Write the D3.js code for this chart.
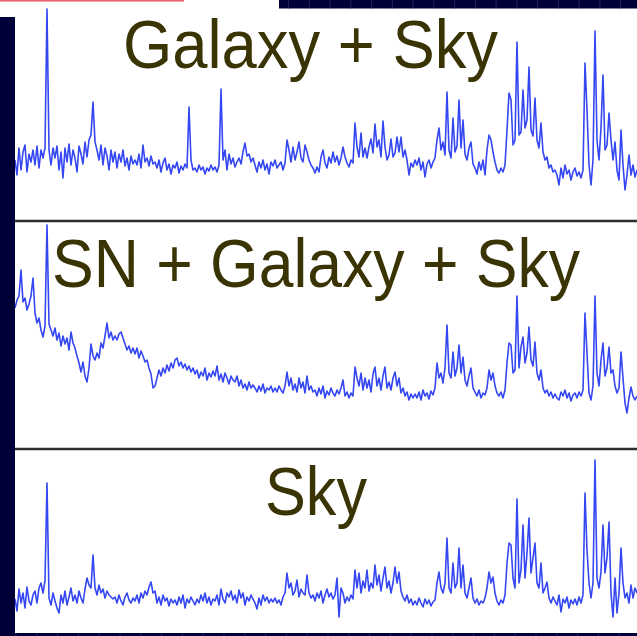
<!DOCTYPE html>
<html>
<head>
<meta charset="utf-8">
<script src="https://cdn.jsdelivr.net/npm/d3@7"></script>
<style>
  html, body { margin: 0; padding: 0; background: #ffffff; }
  svg { display: block; }
</style>
</head>
<body>
<svg id="chart" width="637" height="636"></svg>
<script>
// Panel titles
const panelTitles = ["Galaxy + Sky", "SN + Galaxy + Sky", "Sky"];

// Wavelength grid (Angstrom): regular sampling
const waveStart = 3500;
const waveStep = 18;
const nSamples = 312;
const wave = d3.range(nSamples).map(i => waveStart + i * waveStep);

// Relative flux, galaxy + sky
const fluxGalaxySky = [
  60, 45, 72, 50, 68, 75, 48, 66, 58, 70,   55, 74, 52, 70, 62, 72, 211, 70, 55, 72,
  62, 74, 50, 68, 42, 72, 58, 76, 55, 70,   62, 48, 74, 66, 56, 78, 63, 80, 85, 118,
  78, 70, 60, 75, 55, 72, 64, 50, 70, 58,   68, 52, 66, 58, 70, 54, 62, 50, 64, 56,
  60, 55, 66, 52, 75, 58, 62, 54, 64, 56,   58, 52, 60, 48, 57, 62, 50, 56, 46, 55,
  52, 58, 47, 54, 50, 56, 52, 113, 60, 50,  52, 48, 55, 50, 53, 46, 52, 49, 55, 50,
  53, 48, 55, 131, 60, 70, 50, 66, 56, 62,  53, 58, 62, 56, 68, 77, 64, 66, 58, 62,
  55, 48, 58, 52, 60, 50, 56, 46, 58, 54,   60, 52, 55, 58, 50, 57, 80, 70, 58, 73,
  60, 68, 78, 62, 58, 75, 68, 60, 55, 52,   47, 53, 48, 63, 70, 57, 52, 63, 57, 68,
  58, 64, 55, 62, 73, 63, 57, 53, 60, 57,   97, 73, 63, 87, 63, 72, 62, 73, 81, 67,
  96, 73, 80, 63, 99, 73, 60, 65, 81, 63,   67, 83, 68, 83, 63, 70, 60, 45, 57, 53,
  60, 55, 62, 50, 58, 43, 56, 60, 52, 58,   62, 80, 92, 70, 78, 65, 128, 70, 62, 102,
  68, 74, 120, 72, 100, 66, 60, 72, 78, 56, 52, 46, 58, 50, 60, 45, 70, 85, 80, 68,
  58, 50, 47, 52, 48, 55, 90, 127, 120, 75, 80, 178, 85, 88, 130, 92, 100, 153, 90, 84,
  122, 80, 72, 97, 68, 60, 63, 52, 55, 48,  50, 45, 35, 52, 42, 55, 46, 50, 40, 48,
  52, 44, 48, 42, 50, 157, 110, 55, 35, 60, 189, 80, 60, 92, 145, 70, 75, 107, 80, 60,
  78, 50, 40, 90, 55, 30, 45, 65, 45, 55,   43, 50
];

// Relative flux, supernova + galaxy + sky
const fluxSnGalaxySky = [
  140, 148, 152, 178, 146, 150, 138, 144, 152, 170,  135, 125, 130, 118, 111, 122, 223, 124, 118, 112,
  120, 108, 115, 102, 112, 104, 110, 98, 116, 105,   100, 92, 85, 76, 86, 72, 66, 80, 104, 92,
  88, 95, 90, 105, 100, 112, 125, 110, 116, 108,     112, 108, 114, 116, 110, 104, 98, 102, 95, 100,
  94, 100, 90, 97, 92, 86, 88, 80, 74, 60,           62, 70, 78, 72, 80, 75, 83, 77, 85, 80,
  88, 90, 82, 86, 80, 84, 78, 82, 76, 80,            74, 78, 70, 76, 72, 80, 68, 75, 71, 77,
  72, 82, 68, 74, 66, 75, 70, 64, 72, 68,            66, 72, 62, 68, 60, 64, 58, 66, 60, 63,
  60, 56, 62, 57, 64, 55, 60, 58, 62, 56,            60, 56, 62, 58, 55, 62, 76, 62, 70, 58,
  64, 56, 70, 60, 66, 55, 72, 58, 62, 56,            58, 52, 60, 54, 62, 50, 57, 53, 60, 55,
  52, 58, 54, 60, 68, 52, 56, 50, 55, 52,            81, 70, 62, 75, 58, 70, 60, 68, 56, 74,
  81, 62, 70, 58, 72, 81, 60, 66, 58, 70,            76, 62, 70, 55, 60, 52, 56, 48, 54, 50,
  54, 50, 56, 48, 58, 52, 55, 49, 57, 53,            60, 85, 70, 75, 65, 80, 123, 75, 70, 96,
  72, 80, 103, 75, 91, 68, 62, 72, 80, 60,           56, 52, 58, 50, 55, 53, 60, 78, 68, 75,
  62, 55, 52, 56, 50, 58, 85, 105, 103, 75,          78, 152, 80, 101, 111, 85, 95, 121, 88, 82,
  106, 75, 68, 78, 60, 55, 58, 52, 56, 50,           54, 50, 48, 56, 52, 58, 50, 55, 47, 53,
  55, 50, 56, 52, 58, 135, 95, 55, 48, 62,           152, 75, 62, 88, 105, 72, 80, 101, 75, 78,
  62, 55, 60, 96, 70, 45, 35, 50, 61, 52,            48, 52
];

// Relative flux, sky only
const fluxSky = [
  34, 22, 44, 30, 40, 25, 46, 32, 28, 38,   42, 30, 45, 50, 40, 52, 150, 35, 28, 40,
  32, 25, 20, 38, 30, 42, 28, 36, 45, 32,   38, 30, 42, 35, 30, 44, 55, 48, 45, 78,
  45, 38, 48, 40, 44, 35, 42, 38, 36, 34,   36, 30, 38, 32, 28, 36, 40, 33, 30, 35,
  32, 38, 30, 40, 35, 42, 38, 46, 51, 40,   42, 30, 36, 28, 38, 32, 35, 27, 34, 30,
  33, 28, 36, 30, 38, 25, 34, 30, 36, 32,   28, 34, 30, 38, 32, 40, 30, 36, 28, 34,
  32, 38, 28, 44, 34, 30, 40, 36, 42, 33,   38, 30, 43, 35, 40, 28, 36, 32, 38, 34,
  30, 24, 35, 28, 38, 32, 36, 30, 34, 31,   35, 30, 33, 28, 36, 40, 60, 45, 50, 38,
  42, 53, 36, 44, 40, 38, 58, 40, 35, 38,   32, 40, 35, 42, 30, 38, 44, 36, 40, 34,
  38, 55, 16, 45, 40, 30, 36, 32, 38, 34,   63, 45, 60, 40, 52, 45, 63, 42, 50, 45,
  68, 48, 58, 42, 55, 66, 45, 52, 40, 50,   66, 50, 61, 42, 36, 32, 38, 30, 34, 28,
  32, 28, 35, 30, 26, 34, 29, 33, 27, 31,   33, 50, 61, 45, 40, 50, 95, 45, 40, 70,
  45, 50, 85, 45, 68, 40, 35, 45, 55, 35,   30, 34, 28, 32, 30, 35, 45, 61, 50, 56,
  40, 32, 28, 33, 30, 38, 70, 90, 88, 55,   45, 134, 50, 63, 108, 55, 80, 115, 60, 75,
  90, 50, 45, 70, 40, 45, 51, 35, 30, 36,   32, 28, 38, 21, 34, 30, 36, 25, 33, 29,
  34, 28, 36, 30, 38, 140, 83, 50, 35, 50,  173, 55, 45, 61, 108, 60, 75, 111, 40, 16,
  55, 20, 40, 85, 50, 35, 40, 30, 48, 35,   45, 40
];

const W = 637, H = 636;
const svg = d3.select("#chart");
const navy = "#000038";
const lineBlue = "#3447f2";
const titleColor = "#3a3404";

svg.append("rect").attr("width", W).attr("height", H).attr("fill", "#ffffff");

// Panel layout: baseline (flux 0) and title placement
const panels = [
  { flux: fluxGalaxySky,   base: 220, title: panelTitles[0], tx: 123, tw: 375, ty: 68 },
  { flux: fluxSnGalaxySky, base: 448, title: panelTitles[1], tx: 52,  tw: 528, ty: 287 },
  { flux: fluxSky,         base: 633, title: panelTitles[2], tx: 265, tw: 102, ty: 515 }
];

const x = d3.scaleLinear()
  .domain([wave[0], wave[wave.length - 1]])
  .range([15, 637]);

panels.forEach(p => {
  const y = d3.scaleLinear().domain([0, 200]).range([p.base, p.base - 200]);
  const line = d3.line()
    .x((d, i) => x(wave[i]))
    .y(d => y(d));
  svg.append("path")
    .datum(p.flux)
    .attr("d", line)
    .attr("fill", "none")
    .attr("stroke", lineBlue)
    .attr("stroke-width", 1.6)
    .attr("stroke-linejoin", "round");

  svg.append("text")
    .attr("x", p.tx)
    .attr("y", p.ty)
    .attr("textLength", p.tw)
    .attr("lengthAdjust", "spacingAndGlyphs")
    .attr("font-family", "'Liberation Sans', Arial, Helvetica, sans-serif")
    .attr("font-size", 68)
    .attr("fill", titleColor)
    .text(p.title);
});

// Panel separators
[221, 449].forEach(yy => {
  svg.append("line")
    .attr("x1", 15).attr("x2", W)
    .attr("y1", yy).attr("y2", yy)
    .attr("stroke", "#2a2d2c")
    .attr("stroke-width", 2.4);
});

// Slide frame: accent line, navy borders with faint grid ticks
svg.append("rect").attr("x", 0).attr("y", 0).attr("width", 184).attr("height", 1.6).attr("fill", "#e8646a");
svg.append("rect").attr("x", 279).attr("y", 0).attr("width", W - 279).attr("height", 8.5).attr("fill", navy);
svg.append("rect").attr("x", 0).attr("y", 17).attr("width", 15).attr("height", H - 17).attr("fill", navy);
svg.append("rect").attr("x", 15).attr("y", 633).attr("width", W - 15).attr("height", 3).attr("fill", navy);

const topTicks = d3.range(288.6, W, 20.75);
svg.selectAll(".toptick").data(topTicks).enter().append("line")
  .attr("x1", d => d).attr("x2", d => d).attr("y1", 0).attr("y2", 8.5)
  .attr("stroke", "#2a2f66").attr("stroke-width", 0.8);
const botTicks = d3.range(16, W, 20.8);
svg.selectAll(".bottick").data(botTicks).enter().append("line")
  .attr("x1", d => d).attr("x2", d => d).attr("y1", 633).attr("y2", H)
  .attr("stroke", "#2a2f66").attr("stroke-width", 0.8);
</script>
</body>
</html>
